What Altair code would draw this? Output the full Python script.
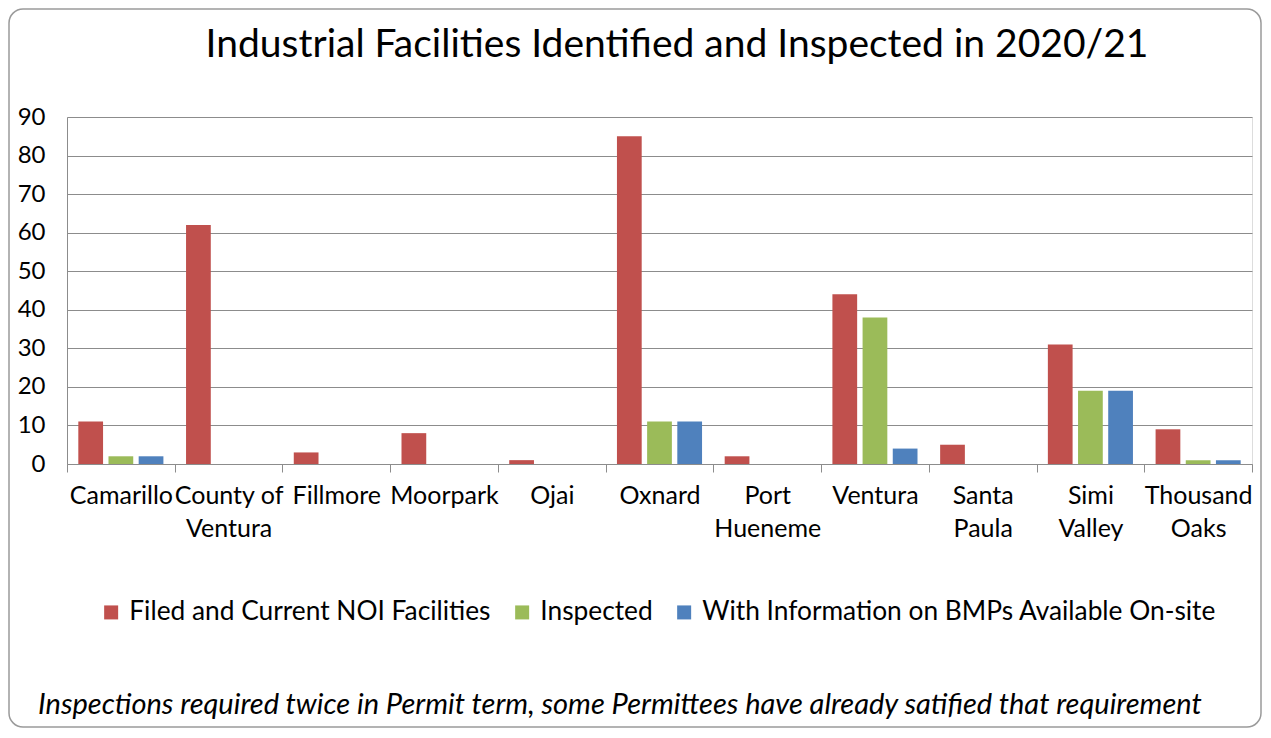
import altair as alt
import pandas as pd

cities = ["Camarillo", "County of Ventura", "Fillmore", "Moorpark", "Ojai", "Oxnard",
          "Port Hueneme", "Ventura", "Santa Paula", "Simi Valley", "Thousand Oaks"]
label_lines = {
    "County of Ventura": ["County of", "Ventura"],
    "Port Hueneme": ["Port", "Hueneme"],
    "Santa Paula": ["Santa", "Paula"],
    "Simi Valley": ["Simi", "Valley"],
    "Thousand Oaks": ["Thousand", "Oaks"],
}
series = ["Filed and Current NOI Facilities", "Inspected",
          "With Information on BMPs Available On-site"]
filed = [11, 62, 3, 8, 1, 85, 2, 44, 5, 31, 9]
inspected = [2, 0, 0, 0, 0, 11, 0, 38, 0, 19, 1]
with_bmps = [2, 0, 0, 0, 0, 11, 0, 4, 0, 19, 1]
colors = ["#C0504D", "#9BBB59", "#4F81BD"]
y_ticks = [0, 10, 20, 30, 40, 50, 60, 70, 80, 90]

title_text = "Industrial Facilities Identified and Inspected in 2020/21"
note_text = ("Inspections required twice in Permit term, some Permittees "
             "have already satified that requirement")

FONT = "Lato"

rows = []
for s, vals in zip(series, [filed, inspected, with_bmps]):
    for c, v in zip(cities, vals):
        rows.append({"city": c, "series": s, "value": v})
df = pd.DataFrame(rows)

# label expression for two-line city names
expr = "datum.value"
for k, v in label_lines.items():
    expr = f"datum.value == '{k}' ? ['{v[0]}', '{v[1]}'] : ({expr})"

W, H = 1185, 347

bars = alt.Chart(df).mark_bar().encode(
    x=alt.X("city:N", sort=cities, title=None,
            scale=alt.Scale(paddingInner=0, paddingOuter=0),
            axis=alt.Axis(labelAngle=0, labelExpr=expr, labelFont=FONT,
                          labelFontSize=25, labelColor="black", labelPadding=11,
                          labelLineHeight=33, labelBaseline="top", labelLimit=0,
                          tickBand="extent", tickSize=8, tickColor="#8c8c8c",
                          domainColor="#8c8c8c", grid=False)),
    xOffset=alt.XOffset("series:N", sort=series,
                        scale=alt.Scale(paddingInner=0.18, paddingOuter=0.375)),
    y=alt.Y("value:Q", title=None,
            scale=alt.Scale(domain=[0, 90], nice=False),
            axis=alt.Axis(values=y_ticks, labelFont=FONT, labelFontSize=24,
                          labelColor="black", labelPadding=22, ticks=False,
                          domainColor="#8c8c8c", gridColor="#8c8c8c",
                          gridWidth=1)),
    color=alt.Color("series:N", sort=series,
                    scale=alt.Scale(domain=series, range=colors),
                    legend=alt.Legend(title=None, orient="none", legendX=31,
                                      legendY=482, direction="horizontal",
                                      padding=0,
                                      symbolType="square", symbolSize=196,
                                      symbolStrokeWidth=0, labelLimit=0,
                                      labelFont=FONT, labelFontSize=26.3,
                                      labelColor="black", columnPadding=18,
                                      labelOffset=5)),
)

one = pd.DataFrame({"t": [title_text], "n": [note_text]})

border = alt.Chart(one).mark_rect(
    filled=False, stroke="#9a9a9a", strokeWidth=1.5, cornerRadius=14
).encode(x=alt.value(-58), x2=alt.value(1194), y=alt.value(-108), y2=alt.value(610))

title = alt.Chart(one).mark_text(
    font=FONT, fontSize=39, color="black", align="center", baseline="alphabetic"
).encode(text="t:N", x=alt.value(610), y=alt.value(-60))

note = alt.Chart(one).mark_text(
    font=FONT, fontSize=29, fontStyle="italic", color="black",
    align="left", baseline="alphabetic"
).encode(text="n:N", x=alt.value(-29), y=alt.value(597))

chart = alt.layer(border, bars, title, note).properties(
    width=W, height=H,
    autosize=alt.AutoSizeParams(type="none"),
    padding={"left": 59, "top": 109, "right": 11, "bottom": 264},
).configure_view(stroke=None).configure(background="white")

chart.save("out.html", embed_options={"renderer": "svg", "actions": False})
